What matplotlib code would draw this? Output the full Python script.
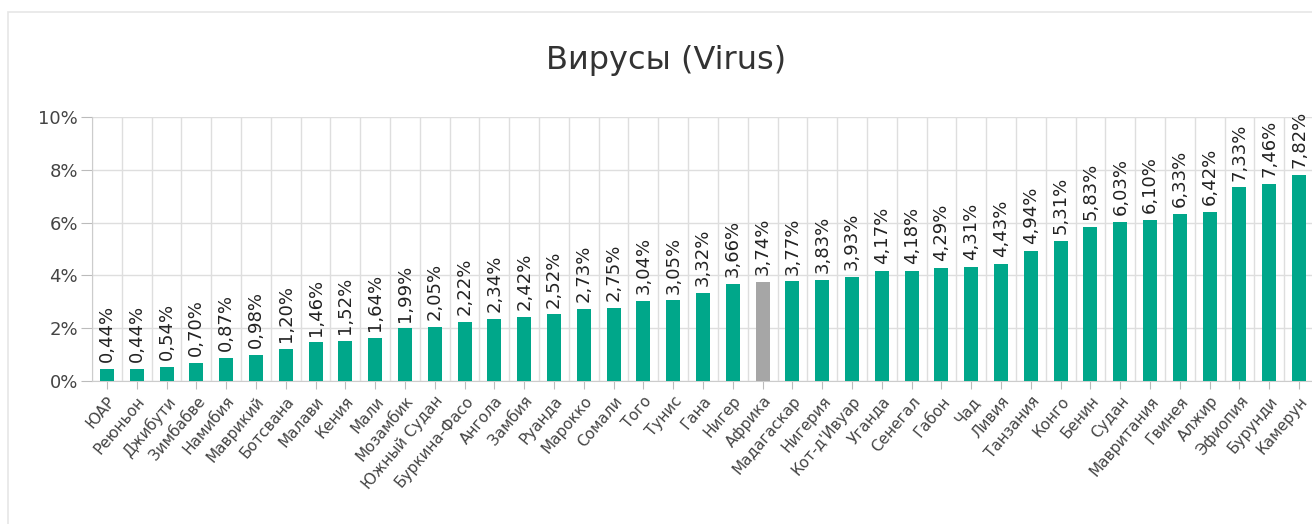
import matplotlib
matplotlib.use("Agg")
import matplotlib.pyplot as plt
import matplotlib.patches as patches
import numpy as np

#---------------Data---------------

countries = ["ЮАР", "Реюньон", "Джибути", "Зимбабве", "Намибия", "Маврикий",
             "Ботсвана", "Малави", "Кения", "Мали", "Мозамбик", "Южный Судан",
             "Буркина-Фасо", "Ангола", "Замбия", "Руанда", "Марокко", "Сомали",
             "Того", "Тунис", "Гана", "Нигер", "Африка", "Мадагаскар", "Нигерия",
             "Кот-д'Ивуар", "Уганда", "Сенегал", "Габон", "Чад", "Ливия",
             "Танзания", "Конго", "Бенин", "Судан", "Мавритания", "Гвинея",
             "Алжир", "Эфиопия", "Бурунди", "Камерун"]
values = [0.44, 0.44, 0.54, 0.70, 0.87, 0.98, 1.20, 1.46, 1.52, 1.64, 1.99,
          2.05, 2.22, 2.34, 2.42, 2.52, 2.73, 2.75, 3.04, 3.05, 3.32, 3.66,
          3.74, 3.77, 3.83, 3.93, 4.17, 4.18, 4.29, 4.31, 4.43, 4.94, 5.31,
          5.83, 6.03, 6.10, 6.33, 6.42, 7.33, 7.46, 7.82]
highlight = "Африка"
yticks = [0, 2, 4, 6, 8, 10]

#---------------Style---------------

green = "#00A78A"
grey = "#A6A6A6"
gridc = "#DEDEDE"

plt.rcParams['font.family'] = ['DejaVu Sans']

fig = plt.figure(figsize=(13.12, 5.24), dpi=100)
fig.patch.set_facecolor("white")

# outer panel border
fig.patches.append(patches.Rectangle((8/1312, -0.1), 1.2, 1 - 12/524 + 0.1,
                                     transform=fig.transFigure, fill=False,
                                     edgecolor="#E6E6E6", linewidth=1.2))

ax = fig.add_axes([92/1312, 143/524, 1222/1312, 264/524])

x = np.arange(len(countries))
colors = [grey if c == highlight else green for c in countries]
bars = ax.bar(x, values, width=0.47, color=colors, zorder=3)

for xi, v in zip(x, values):
    lbl = ("%.2f%%" % v).replace(".", ",")
    ax.annotate(lbl, (xi, v), xytext=(0, 5), textcoords="offset points",
                rotation=90, ha="center", va="bottom", fontsize=13,
                color="#222222", zorder=4)

ax.set_xlim(-0.5, len(countries) - 0.5)
ax.set_ylim(0, 10)
ax.set_yticks(yticks)
ax.set_yticklabels(["%d%%" % t for t in yticks], fontsize=13, color="#444444")
ax.set_xticks(x)
ax.set_xticklabels(countries, rotation=50, ha="right", rotation_mode="anchor",
                   fontsize=11, color="#444444")

# vertical grid at category boundaries
ax.set_xticks(np.arange(-0.5, len(countries), 1), minor=True)
ax.grid(axis="x", which="minor", color=gridc, linewidth=1, zorder=0)
ax.grid(axis="y", which="major", color=gridc, linewidth=1, zorder=0)
ax.tick_params(axis="x", which="minor", length=0)
ax.tick_params(axis="x", which="major", length=6, color="#BBBBBB", pad=3)
ax.tick_params(axis="y", length=8, color="#BBBBBB", pad=2)

for s in ["top", "right"]:
    ax.spines[s].set_visible(False)
ax.spines["left"].set_color("#CCCCCC")
ax.spines["bottom"].set_color("#CCCCCC")

fig.text(666/1312, 1 - 60/524, "Вирусы (Virus)", ha="center", va="center",
         fontsize=23, color="#333333")

plt.savefig("out.png", dpi=100)
